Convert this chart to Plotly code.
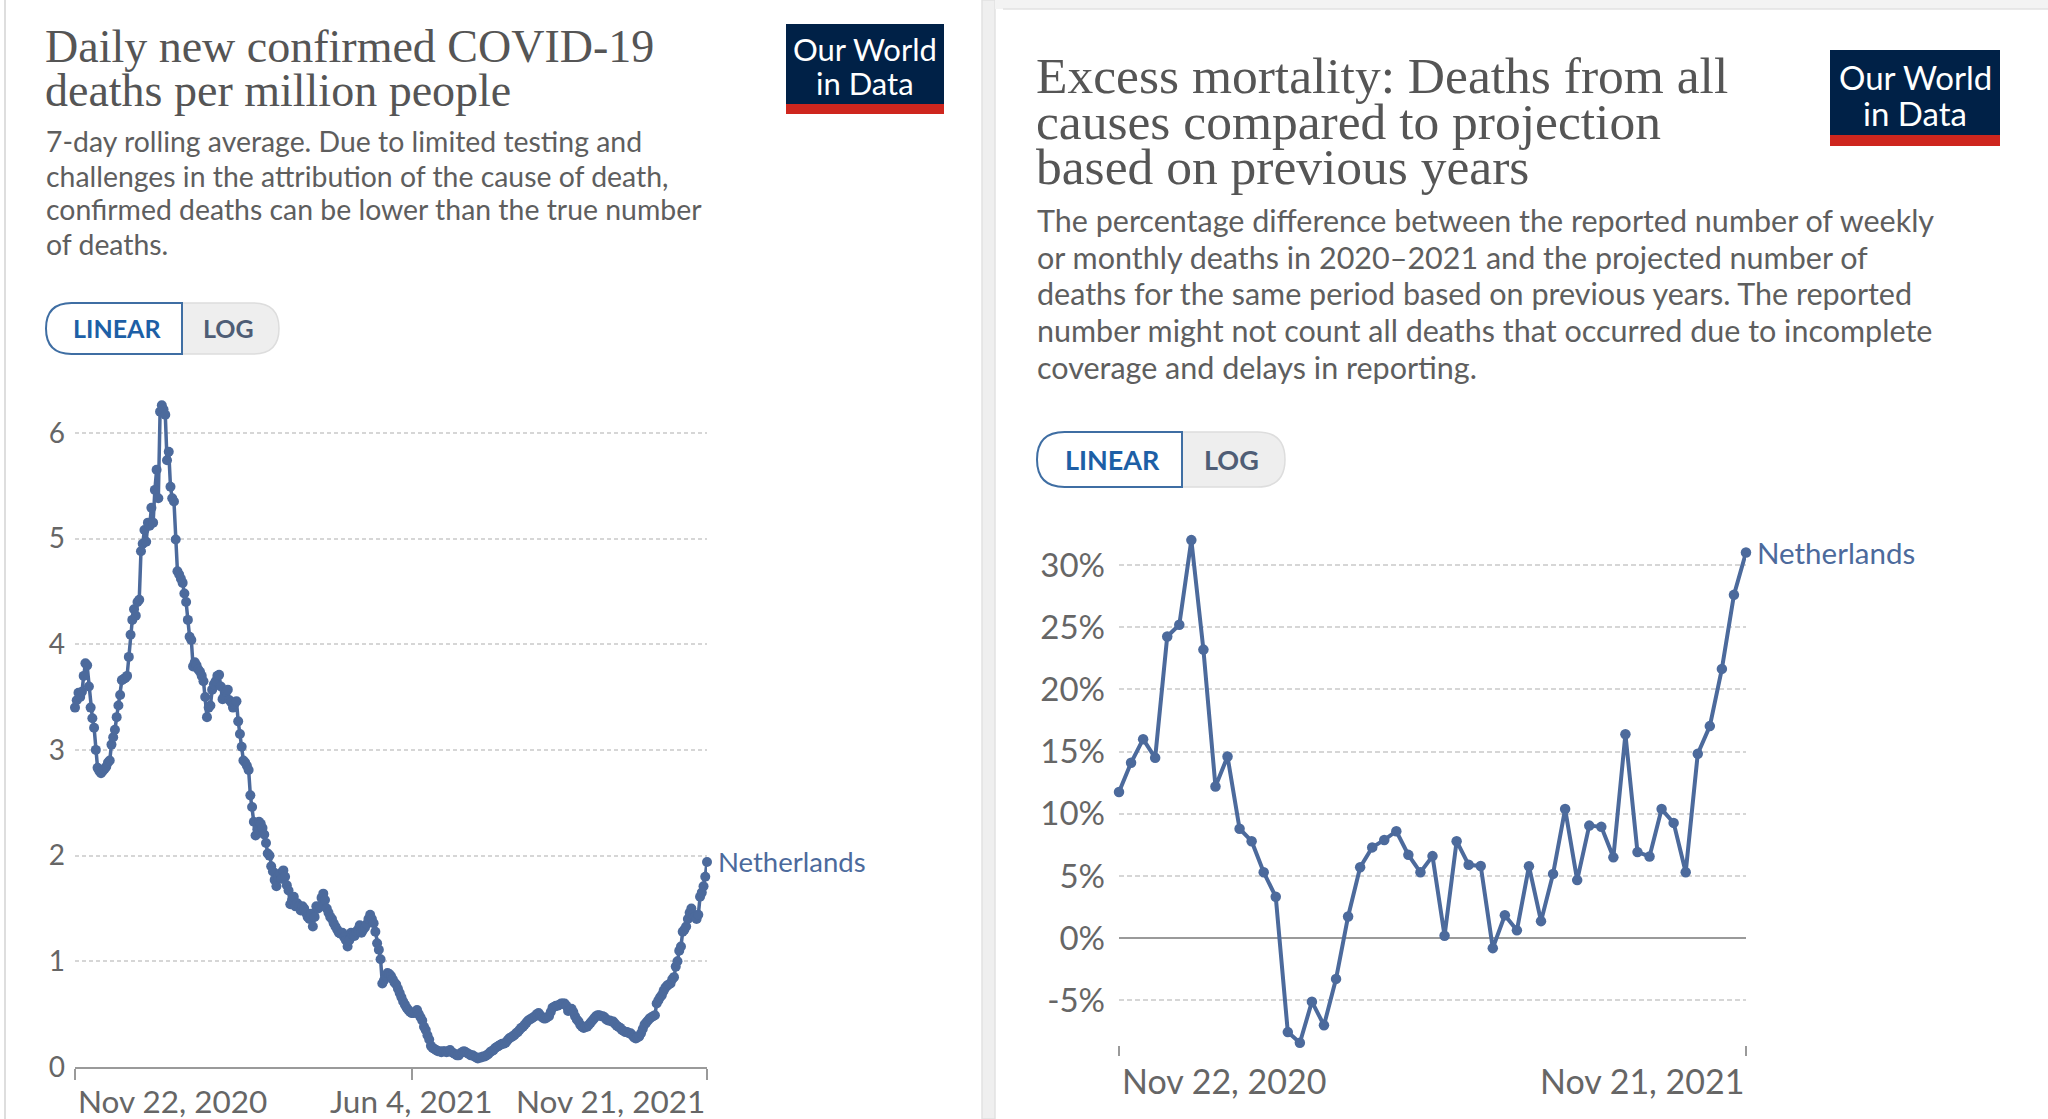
import plotly.graph_objects as go
import pandas as pd

W, H = 2048, 1119

# ------------------------------------------------------------------ data
country = "Netherlands"

# Left: daily new confirmed COVID-19 deaths per million (7-day avg), daily from 2020-11-22
deaths_start = "2020-11-22"
deaths_per_million = [
    3.40, 3.47, 3.54, 3.50, 3.55, 3.70, 3.82, 3.80, 3.60, 3.40,
    3.30, 3.21, 3.00, 2.83, 2.80, 2.78, 2.80, 2.82, 2.84, 2.88,
    2.90, 3.05, 3.12, 3.19, 3.31, 3.42, 3.52, 3.66, 3.67, 3.68,
    3.70, 3.88, 4.09, 4.23, 4.33, 4.27, 4.40, 4.42, 4.88, 4.95,
    5.08, 4.97, 5.15, 5.12, 5.29, 5.15, 5.46, 5.65, 5.38, 6.20,
    6.26, 6.22, 6.17, 5.74, 5.82, 5.49, 5.38, 5.35, 4.99, 4.69,
    4.66, 4.62, 4.58, 4.48, 4.40, 4.23, 4.07, 4.04, 3.79, 3.83,
    3.80, 3.76, 3.74, 3.70, 3.65, 3.50, 3.31, 3.40, 3.42, 3.57,
    3.62, 3.65, 3.70, 3.71, 3.60, 3.48, 3.51, 3.55, 3.57, 3.47,
    3.45, 3.40, 3.44, 3.46, 3.27, 3.15, 3.03, 2.90, 2.88, 2.85,
    2.81, 2.57, 2.46, 2.32, 2.19, 2.25, 2.32, 2.30, 2.26, 2.20,
    2.12, 2.02, 2.00, 1.90, 1.85, 1.77, 1.71, 1.80, 1.83, 1.78,
    1.86, 1.80, 1.72, 1.67, 1.54, 1.58, 1.61, 1.52, 1.55, 1.52,
    1.48, 1.52, 1.50, 1.46, 1.42, 1.40, 1.45, 1.33, 1.42, 1.52,
    1.50, 1.52, 1.60, 1.64, 1.58, 1.50, 1.46, 1.42, 1.40, 1.36,
    1.33, 1.30, 1.27, 1.26, 1.27, 1.23, 1.20, 1.14, 1.20, 1.27,
    1.25, 1.24, 1.28, 1.30, 1.34, 1.27, 1.30, 1.32, 1.35, 1.40,
    1.44, 1.40, 1.36, 1.28, 1.17, 1.11, 1.02, 0.79, 0.82, 0.86,
    0.89, 0.88, 0.86, 0.83, 0.80, 0.78, 0.74, 0.70, 0.66, 0.62,
    0.59, 0.56, 0.54, 0.52, 0.51, 0.51, 0.52, 0.54, 0.50, 0.47,
    0.44, 0.38, 0.35, 0.30, 0.26, 0.20, 0.18, 0.17, 0.16, 0.15,
    0.15, 0.14, 0.15, 0.15, 0.14, 0.15, 0.16, 0.14, 0.13, 0.12,
    0.11, 0.11, 0.13, 0.14, 0.15, 0.14, 0.13, 0.12, 0.11, 0.11,
    0.10, 0.09, 0.08, 0.09, 0.09, 0.10, 0.10, 0.11, 0.12, 0.14,
    0.15, 0.16, 0.18, 0.19, 0.20, 0.21, 0.22, 0.22, 0.23, 0.25,
    0.27, 0.28, 0.29, 0.30, 0.32, 0.33, 0.35, 0.37, 0.38, 0.40,
    0.42, 0.44, 0.45, 0.46, 0.47, 0.48, 0.50, 0.51, 0.49, 0.47,
    0.46, 0.46, 0.47, 0.48, 0.52, 0.56, 0.57, 0.58, 0.58, 0.59,
    0.60, 0.60, 0.60, 0.58, 0.53, 0.54, 0.55, 0.52, 0.48, 0.45,
    0.43, 0.40, 0.38, 0.37, 0.38, 0.38, 0.40, 0.42, 0.44, 0.46,
    0.48, 0.49, 0.49, 0.48, 0.48, 0.47, 0.45, 0.44, 0.44, 0.43,
    0.43, 0.41, 0.39, 0.38, 0.37, 0.35, 0.34, 0.33, 0.33, 0.32,
    0.32, 0.30, 0.28, 0.27, 0.28, 0.29, 0.32, 0.36, 0.40, 0.42,
    0.44, 0.46, 0.47, 0.48, 0.49, 0.60, 0.63, 0.66, 0.68, 0.72,
    0.75, 0.77, 0.78, 0.79, 0.83, 0.85, 0.95, 1.00, 1.10, 1.14,
    1.28, 1.30, 1.33, 1.40, 1.46, 1.50, 1.44, 1.42, 1.40, 1.44,
    1.61, 1.65, 1.71, 1.80, 1.94,
]

# Right: excess mortality (P-scores, %), weekly from 2020-11-22
excess_start = "2020-11-22"
excess_pct = [
    11.75, 14.1, 16.0, 14.5, 24.25, 25.2, 32.0, 23.2, 12.2, 14.6,
    8.8, 7.8, 5.3, 3.33, -7.55, -8.4, -5.1, -7.0, -3.27, 1.75,
    5.7, 7.3, 7.9, 8.6, 6.7, 5.3, 6.6, 0.2, 7.8, 5.9,
    5.8, -0.8, 1.84, 0.63, 5.78, 1.37, 5.17, 10.38, 4.67, 9.05,
    8.95, 6.5, 16.4, 6.92, 6.57, 10.38, 9.27, 5.3, 14.83, 17.05,
    21.65, 27.6, 31.0,
]

left_xrange = ["2020-11-22", "2021-11-21"]
left_tick_dates = ["2020-11-22", "2021-06-04", "2021-11-21"]
left_tick_labels = ["Nov 22, 2020", "Jun 4, 2021", "Nov 21, 2021"]
left_y_ticks = [0, 1, 2, 3, 4, 5, 6]

right_xrange = ["2020-11-22", "2021-11-21"]
right_tick_dates = ["2020-11-22", "2021-11-21"]
right_tick_labels = ["Nov 22, 2020", "Nov 21, 2021"]
right_y_ticks = [-5, 0, 5, 10, 15, 20, 25, 30]
right_y_labels = ["-5%", "0%", "5%", "10%", "15%", "20%", "25%", "30%"]

left_title = ["Daily new confirmed COVID-19", "deaths per million people"]
left_subtitle = [
    "7-day rolling average. Due to limited testing and",
    "challenges in the attribution of the cause of death,",
    "confirmed deaths can be lower than the true number",
    "of deaths.",
]
right_title = ["Excess mortality: Deaths from all",
               "causes compared to projection",
               "based on previous years"]
right_subtitle = [
    "The percentage difference between the reported number of weekly",
    "or monthly deaths in 2020\u20132021 and the projected number of",
    "deaths for the same period based on previous years. The reported",
    "number might not count all deaths that occurred due to incomplete",
    "coverage and delays in reporting.",
]

# ------------------------------------------------------------------ helpers
def fx(px):
    return px / W

def fy(py):
    return 1 - py / H

LINE = "#4c6a9c"
TICK = "#666666"
TITLE = "#555555"
SUB = "#5e5e5e"
SERIF = "Liberation Serif, DejaVu Serif, serif"
SANS = "Lato, Noto Sans, sans-serif"

left_dates = pd.date_range(deaths_start, periods=len(deaths_per_million), freq="D")
right_dates = pd.date_range(excess_start, periods=len(excess_pct), freq="7D")

fig = go.Figure()
fig.add_trace(go.Scatter(
    x=left_dates, y=deaths_per_million, mode="lines+markers",
    line=dict(color=LINE, width=3.5), marker=dict(color=LINE, size=10),
    xaxis="x", yaxis="y", cliponaxis=False, showlegend=False, hoverinfo="skip"))
fig.add_trace(go.Scatter(
    x=right_dates, y=excess_pct, mode="lines+markers",
    line=dict(color=LINE, width=4), marker=dict(color=LINE, size=10.5),
    xaxis="x2", yaxis="y2", cliponaxis=False, showlegend=False, hoverinfo="skip"))

# left axes: 0 at y=1067 px, 105.7 px per unit
L_X0, L_X1, L_Y0 = 75, 707, 1067
L_PPU = 105.7
L_YMAX = 6.3
# right axes: 0 at y=938.2 px, 12.44 px per %
R_X0, R_X1, R_ZERO = 1119, 1746, 938.2
R_PPU = 12.44
R_YMIN, R_YMAX = -8.6, 32.8

shapes = []
annotations = []

fig.update_layout(
    width=W, height=H, margin=dict(l=0, r=0, t=0, b=0, pad=0, autoexpand=False),
    paper_bgcolor="white", plot_bgcolor="rgba(0,0,0,0)",
    font=dict(family=SANS, color=TICK),
    xaxis=dict(
        domain=[fx(L_X0), fx(L_X1)], anchor="y", type="date", range=left_xrange,
        automargin=False,
        showgrid=False, zeroline=False, showline=True, linecolor="#9a9a9a", linewidth=2,
        ticks="outside", ticklen=11, tickwidth=2, tickcolor="#9a9a9a",
        tickvals=left_tick_dates, showticklabels=False),
    yaxis=dict(
        domain=[fy(L_Y0), fy(L_Y0 - L_YMAX * L_PPU)], anchor="x", range=[0, L_YMAX],
        automargin=False,
        tickvals=left_y_ticks, showgrid=True, gridcolor="#d6d6d6", gridwidth=1.5,
        griddash="4px,3px", zeroline=False, showline=False, ticks="",
        tickfont=dict(family=SANS, size=28, color=TICK), ticklabelstandoff=9),
    xaxis2=dict(
        domain=[fx(R_X0), fx(R_X1)], anchor="y2", type="date", range=right_xrange,
        automargin=False,
        showgrid=False, zeroline=False, showline=False,
        ticks="outside", ticklen=10, tickwidth=2, tickcolor="#9a9a9a",
        tickvals=right_tick_dates, showticklabels=False),
    yaxis2=dict(
        domain=[fy(R_ZERO - R_YMIN * R_PPU), fy(R_ZERO - R_YMAX * R_PPU)], anchor="x2",
        automargin=False,
        range=[R_YMIN, R_YMAX], tickvals=right_y_ticks, ticktext=right_y_labels,
        showgrid=True, gridcolor="#d6d6d6", gridwidth=1.5, griddash="5px,3px",
        zeroline=True, zerolinecolor="#9a9a9a", zerolinewidth=2,
        showline=False, ticks="",
        tickfont=dict(family=SANS, size=33, color=TICK), ticklabelstandoff=13),
)

# ------------------------------------------------------------------ background cards
shapes.append(dict(type="line", xref="paper", yref="paper", x0=fx(5), x1=fx(5), y0=0, y1=1,
                   line=dict(color="#dedede", width=2), layer="below"))
shapes.append(dict(type="rect", xref="paper", yref="paper", x0=fx(982), x1=fx(995), y0=0, y1=1,
                   fillcolor="#efefef", line=dict(color="#e2e2e2", width=1.5), layer="below"))
shapes.append(dict(type="rect", xref="paper", yref="paper", x0=fx(995), x1=1, y0=fy(9), y1=1,
                   fillcolor="#f3f3f3", line=dict(width=0), layer="below"))
shapes.append(dict(type="line", xref="paper", yref="paper", x0=fx(1003), x1=1, y0=fy(9), y1=fy(9),
                   line=dict(color="#e2e2e2", width=1.5), layer="below"))

# ------------------------------------------------------------------ logos
def logo(x0, x1, y0, y1, red_h, t1y, t2y, size):
    shapes.append(dict(type="rect", xref="paper", yref="paper", x0=fx(x0), x1=fx(x1),
                       y0=fy(y1 - red_h), y1=fy(y0), fillcolor="#002147", line=dict(width=0)))
    shapes.append(dict(type="rect", xref="paper", yref="paper", x0=fx(x0), x1=fx(x1),
                       y0=fy(y1), y1=fy(y1 - red_h), fillcolor="#ce261e", line=dict(width=0)))
    cx = (x0 + x1) / 2
    for txt, ty in (("Our World", t1y), ("in Data", t2y)):
        annotations.append(dict(text=txt, x=fx(cx), y=fy(ty), xref="paper", yref="paper",
                                xanchor="center", yanchor="middle", showarrow=False,
                                font=dict(family=SANS, size=size, color="white")))

logo(786, 944, 24, 114, 10, 49, 83, 31)
logo(1830, 2000, 50, 146, 11, 77, 113, 33)

# ------------------------------------------------------------------ titles / subtitles
def text_lines(lines, x, ys, size, family, color):
    for t, y in zip(lines, ys):
        annotations.append(dict(text=t, x=fx(x), y=fy(y), xref="paper", yref="paper",
                                xanchor="left", yanchor="middle", showarrow=False,
                                font=dict(family=family, size=size, color=color)))

text_lines(left_title, 43, [47, 91], 46, SERIF, TITLE)
text_lines(left_subtitle, 44, [141, 176, 209, 244], 28.4, SANS, SUB)
text_lines(right_title, 1034, [76, 121, 166], 51.5, SERIF, TITLE)
text_lines(right_subtitle, 1035, [220, 257, 293, 330, 367], 30.5, SANS, SUB)

# ------------------------------------------------------------------ LINEAR / LOG toggles
def rounded_half(x0, x1, y0, y1, r, side):
    X = lambda v: f"{fx(v):.6f}"
    Y = lambda v: f"{fy(v):.6f}"
    if side == "left":
        return (f"M{X(x1)},{Y(y0)} L{X(x0 + r)},{Y(y0)} Q{X(x0)},{Y(y0)} {X(x0)},{Y(y0 + r)} "
                f"L{X(x0)},{Y(y1 - r)} Q{X(x0)},{Y(y1)} {X(x0 + r)},{Y(y1)} L{X(x1)},{Y(y1)} Z")
    return (f"M{X(x0)},{Y(y0)} L{X(x1 - r)},{Y(y0)} Q{X(x1)},{Y(y0)} {X(x1)},{Y(y0 + r)} "
            f"L{X(x1)},{Y(y1 - r)} Q{X(x1)},{Y(y1)} {X(x1 - r)},{Y(y1)} L{X(x0)},{Y(y1)} Z")

def toggle(x0, xm, x1, y0, y1, size):
    r = (y1 - y0) / 2
    shapes.append(dict(type="path", xref="paper", yref="paper",
                       path=rounded_half(xm, x1, y0, y1, r, "right"),
                       fillcolor="#eeeeee", line=dict(color="#dddddd", width=1.5)))
    shapes.append(dict(type="path", xref="paper", yref="paper",
                       path=rounded_half(x0, xm, y0, y1, r, "left"),
                       fillcolor="white", line=dict(color="#3f6ea3", width=2)))
    ym = (y0 + y1) / 2
    annotations.append(dict(text="<b>LINEAR</b>", x=fx((x0 + xm) / 2 + 3), y=fy(ym), xref="paper",
                            yref="paper", xanchor="center", yanchor="middle", showarrow=False,
                            font=dict(family=SANS, size=size, color="#1d5fa6")))
    annotations.append(dict(text="<b>LOG</b>", x=fx((xm + x1) / 2 - 2), y=fy(ym), xref="paper",
                            yref="paper", xanchor="center", yanchor="middle", showarrow=False,
                            font=dict(family=SANS, size=size, color="#4f5d75")))

toggle(46, 182, 279, 303, 354, 25)
toggle(1037, 1182, 1285, 432, 487, 27)

# ------------------------------------------------------------------ x tick labels
for d, lab, a in zip(left_tick_dates, left_tick_labels, ["left", "center", "right"]):
    annotations.append(dict(text=lab, x=d, xref="x", y=fy(1101), yref="paper",
                            xanchor=a, yanchor="middle", showarrow=False,
                            xshift=1 if a == "left" else 0,
                            font=dict(family=SANS, size=31.5, color=TICK)))
for d, lab, a in zip(right_tick_dates, right_tick_labels, ["left", "right"]):
    annotations.append(dict(text=lab, x=d, xref="x2", y=fy(1080), yref="paper",
                            xanchor=a, yanchor="middle", showarrow=False,
                            xshift=1 if a == "left" else 0,
                            font=dict(family=SANS, size=34, color=TICK)))

# ------------------------------------------------------------------ series labels
annotations.append(dict(text=country, x=left_dates[-1], y=deaths_per_million[-1],
                        xref="x", yref="y", xanchor="left", yanchor="middle", xshift=9,
                        showarrow=False, font=dict(family=SANS, size=27.5, color="#4c6a9c")))
annotations.append(dict(text=country, x=right_dates[-1], y=excess_pct[-1],
                        xref="x2", yref="y2", xanchor="left", yanchor="middle", xshift=9,
                        showarrow=False, font=dict(family=SANS, size=29.5, color="#4c6a9c")))

fig.update_layout(shapes=shapes, annotations=annotations)

fig.write_html("out.html", config={"displayModeBar": False, "responsive": False},
               post_script="document.body.style.margin='0';document.body.style.overflow='hidden';")
